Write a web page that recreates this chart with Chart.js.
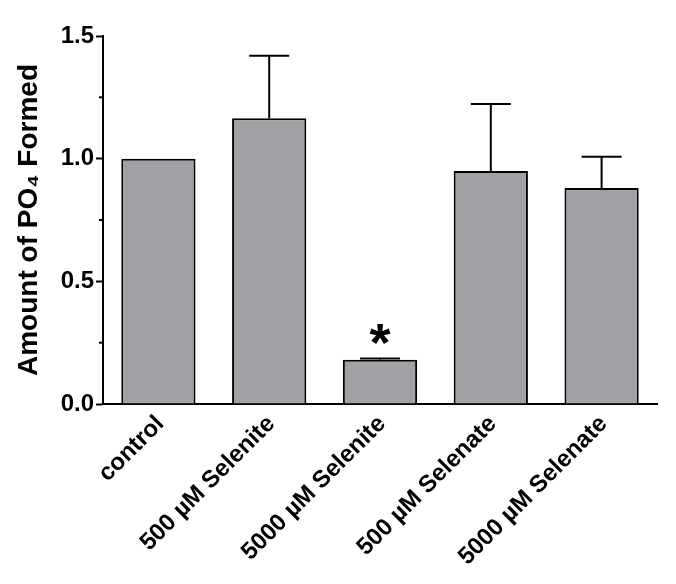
<!DOCTYPE html>
<html>
<head>
<meta charset="utf-8">
<script src="https://cdn.jsdelivr.net/npm/chart.js@4.4.0/dist/chart.umd.min.js"></script>
<style>
  html, body { margin: 0; padding: 0; background: #fff; }
  #wrap { width: 676px; height: 584px; }
</style>
</head>
<body>
<div id="wrap"><canvas id="myChart" width="676" height="584"></canvas></div>
<script>
// data
let categories = ['control', '500 \u00b5M Selenite', '5000 \u00b5M Selenite', '500 \u00b5M Selenate', '5000 \u00b5M Selenate'];
let amountPO4 = [1.0, 1.165, 0.18, 0.95, 0.88];
let errorUp = [0, 0.255, 0.005, 0.273, 0.128];
let significant = [false, false, true, false, false];
let yTicks = [0, 0.5, 1.0, 1.5];
let yMinorTicks = [0.25, 0.75, 1.25];

const fontFam = '"Liberation Sans", Arial, sans-serif';

// error bars, asterisk and minor ticks
const extras = {
    id: 'extras',
    afterDatasetsDraw(chart) {
        const ctx = chart.ctx;
        const meta = chart.getDatasetMeta(0);
        const y = chart.scales.y;
        ctx.save();
        ctx.strokeStyle = '#000';
        ctx.lineWidth = 2;
        for (let i = 0; i < amountPO4.length; i++) {
            let bar = meta.data[i];
            let yTop = y.getPixelForValue(amountPO4[i]);
            let yErr = y.getPixelForValue(amountPO4[i] + errorUp[i]);
            if (errorUp[i] > 0) {
                ctx.beginPath();
                ctx.moveTo(bar.x, yTop);
                ctx.lineTo(bar.x, yErr);
                ctx.moveTo(bar.x - 20, yErr);
                ctx.lineTo(bar.x + 20, yErr);
                ctx.stroke();
            }
            if (significant[i]) {
                ctx.fillStyle = '#000';
                ctx.font = 'bold 54px ' + fontFam;
                ctx.textAlign = 'center';
                ctx.textBaseline = 'alphabetic';
                ctx.fillText('*', bar.x, yErr + 2);
            }
        }
        // minor ticks on y axis
        for (let v of yMinorTicks) {
            let py = y.getPixelForValue(v);
            ctx.beginPath();
            ctx.moveTo(chart.chartArea.left - 4, py);
            ctx.lineTo(chart.chartArea.left, py);
            ctx.stroke();
        }
        ctx.restore();
    }
};

const ctx = document.getElementById('myChart').getContext('2d');
const myChart = new Chart(ctx, {
    type: 'bar',
    data: {
        labels: categories,
        datasets: [{
            data: amountPO4,
            backgroundColor: '#a1a1a5',
            borderColor: '#000',
            borderWidth: 2,
            borderSkipped: 'bottom',
            categoryPercentage: 1.0,
            barPercentage: 0.67
        }]
    },
    options: {
        responsive: false,
        animation: false,
        devicePixelRatio: 1,
        layout: { padding: { top: 36, right: 19, bottom: 0, left: 0 } },
        plugins: {
            legend: { display: false },
            tooltip: { enabled: false }
        },
        scales: {
            x: {
                grid: { display: false, drawTicks: false },
                border: { color: '#000', width: 2 },
                ticks: {
                    color: '#000',
                    font: { family: fontFam, size: 24, weight: 'bold' },
                    maxRotation: 45,
                    minRotation: 45,
                    labelOffset: 2,
                    padding: 6
                },
                afterFit: function(scale) { scale.height = 180; }
            },
            y: {
                min: 0,
                max: 1.5,
                afterBuildTicks: function(scale) {
                    scale.ticks = yTicks.map(v => ({ value: v }));
                },
                grid: { drawOnChartArea: false, tickLength: 7, tickColor: '#000', tickWidth: 2 },
                border: { color: '#000', width: 2 },
                ticks: {
                    color: '#000',
                    padding: 2,
                    font: { family: fontFam, size: 24, weight: 'bold' },
                    callback: function(v) { return Number(v).toFixed(1); }
                },
                title: {
                    display: true,
                    text: 'Amount of PO\u2084 Formed',
                    color: '#000',
                    font: { family: fontFam, size: 28, weight: 'bold' },
                    padding: { top: 12, bottom: 0 }
                },
                afterFit: function(scale) { scale.width = 103; }
            }
        }
    },
    plugins: [extras]
});
</script>
</body>
</html>
